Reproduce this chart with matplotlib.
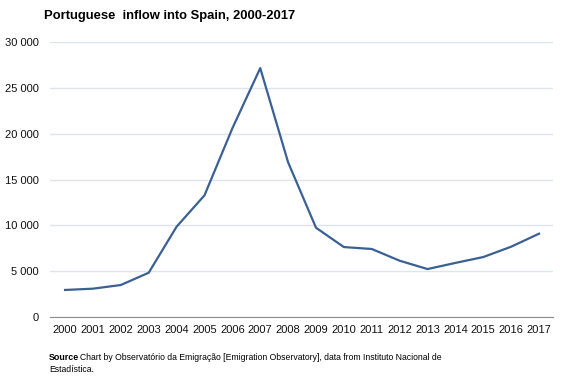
import matplotlib
matplotlib.use("Agg")
import matplotlib.pyplot as plt

# Portuguese inflow into Spain
years = list(range(2000, 2018))
inflow = [2950, 3090, 3490, 4830, 9850, 13270, 20580, 27150, 16870, 9740,
          7630, 7420, 6140, 5230, 5900, 6540, 7670, 9090]
y_ticks = [0, 5000, 10000, 15000, 20000, 25000, 30000]

plt.rcParams['font.family'] = ['Liberation Sans', 'DejaVu Sans']

fig = plt.figure(figsize=(5.67, 3.78), dpi=100)
ax = fig.add_axes([50 / 567, 1 - 317 / 378, 503 / 567, 275 / 378])

x = list(range(len(years)))
ax.plot(x, inflow, color='#3a6094', linewidth=1.6, solid_joinstyle='round')

ax.set_xlim(-0.54, len(years) - 0.5)
ax.set_ylim(0, 30000)
ax.set_yticks(y_ticks)
ax.set_yticklabels([f"{v:,}".replace(",", " ") for v in y_ticks])
ax.set_xticks(x)
ax.set_xticklabels([str(y) for y in years])

ax.grid(axis='y', color='#dde5ee', linewidth=1)
ax.set_axisbelow(True)
for side in ['top', 'right', 'left']:
    ax.spines[side].set_visible(False)
ax.spines['bottom'].set_color('#8c8c8c')
ax.tick_params(axis='both', length=0, labelsize=8, colors='#111111')
ax.tick_params(axis='y', pad=8)
ax.tick_params(axis='x', pad=6)

fig.text(44 / 567, 1 - 16 / 378, "Portuguese  inflow into Spain, 2000-2017",
         fontsize=9.4, fontweight='bold', va='center', ha='left')

# source note
fig.text(49 / 567, 1 - 358 / 378, "Source", fontsize=6.4, fontweight='bold',
         va='center', ha='left')
fig.text(80 / 567, 1 - 358 / 378,
         "Chart by Observatório da Emigração [Emigration Observatory], data from Instituto Nacional de",
         fontsize=6.2, va='center', ha='left')
fig.text(49 / 567, 1 - 370 / 378, "Estadística.", fontsize=6.2, va='center', ha='left')

fig.savefig("out.png", dpi=100)
